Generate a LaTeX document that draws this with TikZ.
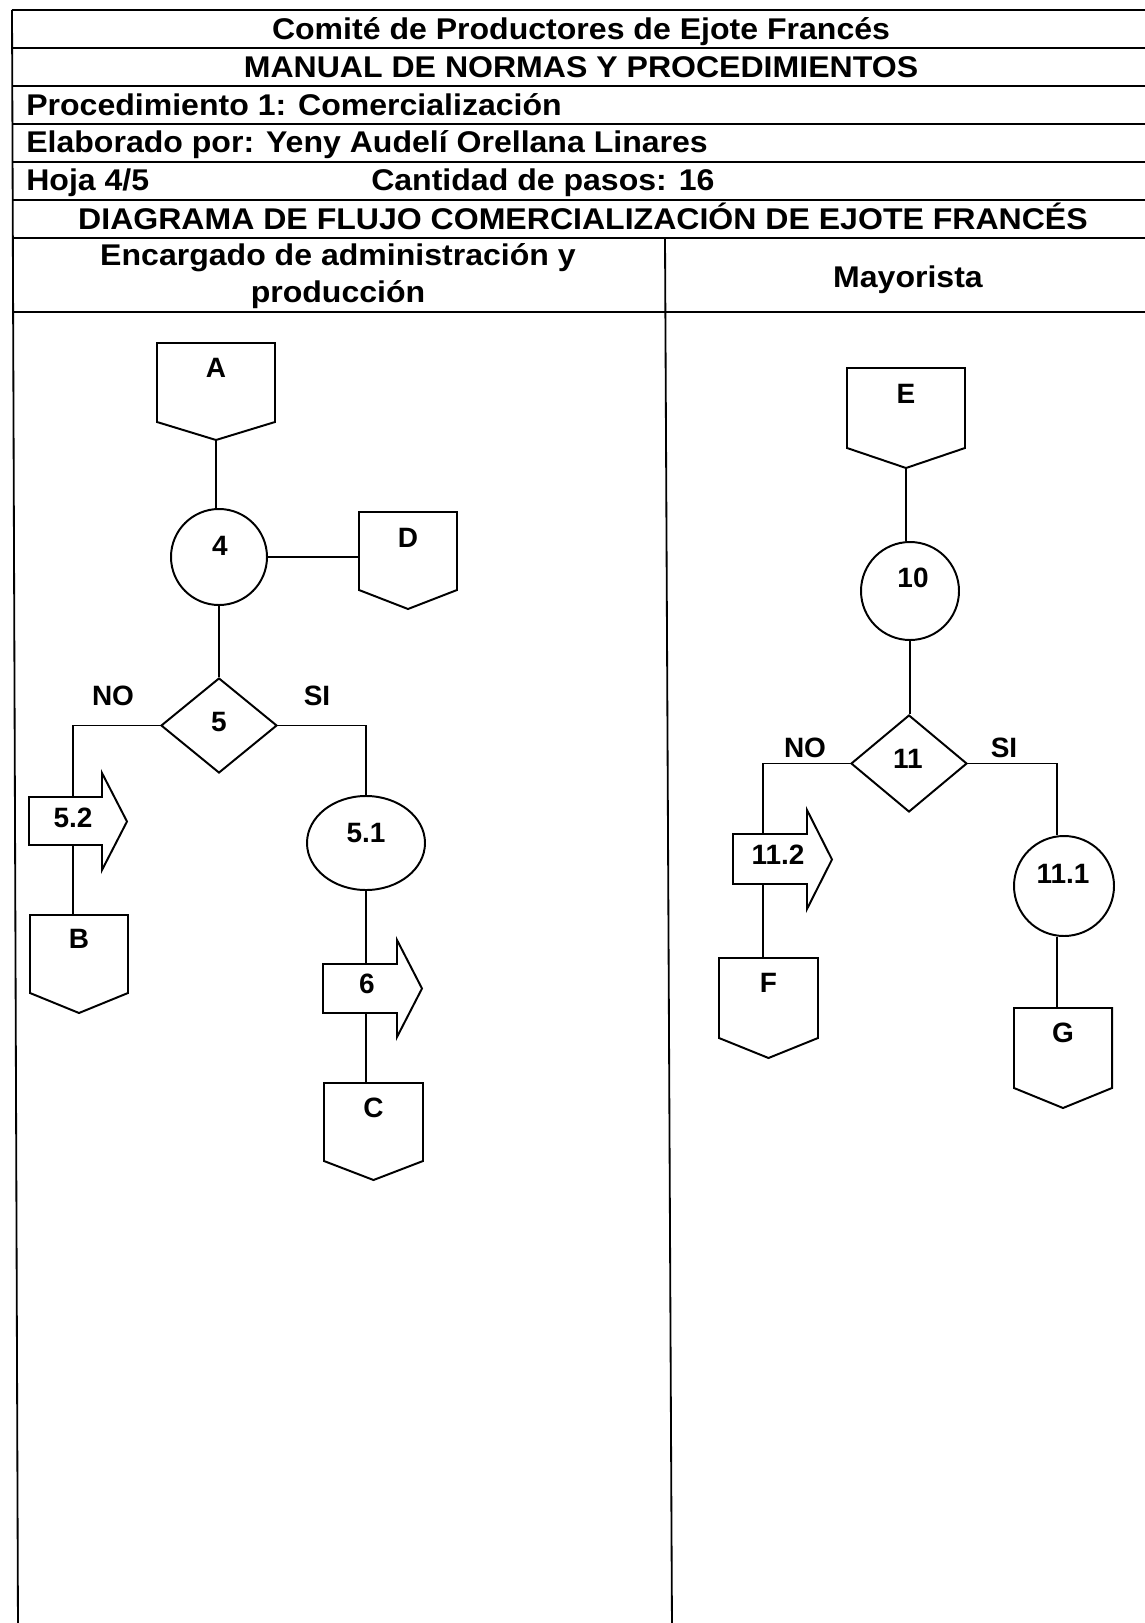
\documentclass[tikz,border=0pt]{standalone}
\usepackage{fontspec}
\newfontfamily\hfont{Liberation Sans}[FakeStretch=1.07]
\newfontfamily\lfont{Liberation Sans}
\usetikzlibrary{shapes.geometric,fit,calc}
\def\u{0.025cm}
\newcommand\offpg[8]{%
  \draw[shp, fill=white] (#2,#4) -- (#3,#4) -- (#3,#5) -- ({(#2+#3)/2},#6) -- (#2,#5) -- cycle;
  \node[fit={(#2,#4) (#3,#6)}, inner sep=0] (#1) {};
  \node[lbl] (#1t) at ({(#2+#3)/2},#8) {#7};
}
\newcommand\blkarr[8]{%
  \draw[shp, fill=white] (#2,#5) -- (#3,#5) -- (#3,#7) -- (#4,{(#7+#8)/2}) -- (#3,#8) -- (#3,#6) -- (#2,#6) -- cycle;
  \node[fit={(#2,#7) (#4,#8)}, inner sep=0] (#1) {};
}
\tikzset{
  tbl/.style={line width=1.3pt},
  shp/.style={line width=1.4pt, line join=miter},
  conn/.style={line width=1.4pt},
  hdr/.style={font=\hfont\bfseries\fontsize{21.3}{24}\selectfont, inner sep=0, anchor=base},
  hdrl/.style={hdr, anchor=base west},
  lbl/.style={font=\lfont\bfseries\fontsize{19.9}{22}\selectfont, inner sep=0, anchor=base},
  circ/.style={shp, circle, draw, fill=white, inner sep=0},
  diam/.style={shp, diamond, draw, fill=white, inner sep=0, minimum width={116*\u}, minimum height={95*\u}},
}
\begin{document}
\begin{tikzpicture}[x=0.025cm, y=-0.025cm]
\useasboundingbox (0,0) rectangle (1144,1623);
\fill[white] (0,0) rectangle (1144,1623);
% table
\foreach \yy in {10,48,86,124,162,200,238,312}
  \draw[tbl] (12,\yy) -- (1150,\yy);
\draw[tbl] (12,10) -- (18,1630);
\draw[tbl] (665,238) -- (672,1630);
% header texts
\node[hdr] (h1) at (581,40) {Comité de Productores de Ejote Francés};
\node[hdr] (h2) at (581,78) {MANUAL DE NORMAS Y PROCEDIMIENTOS};
\node[hdrl] (h3) at (26,116) {Procedimiento 1: Comercialización};
\node[hdrl] (h4) at (26,153) {Elaborado por: Yeny Audelí Orellana Linares};
\node[hdrl] (h5) at (26,191) {Hoja 4/5};
\node[hdrl] (h5b) at (371,191) {Cantidad de pasos: 16};
\node[hdr] (h6) at (583,229) {DIAGRAMA DE FLUJO COMERCIALIZACIÓN DE EJOTE FRANCÉS};
\node[hdr] (h7a) at (338,265) {Encargado de administración y};
\node[hdr] (h7b) at (338,302) {producción};
\node[hdr] (h8) at (908,287) {Mayorista};
% left lane shapes
\offpg{A}{157}{275}{343}{422}{440}{A}{377}
\node[circ, minimum size={96*\u}] (n4) at (219,557) {};
\offpg{D}{359}{457}{512}{590}{609}{D}{547}
\node[diam] (d5) at (219,725.5) {};
\offpg{B}{30}{128}{915}{993}{1013}{B}{948}
\node[shp, ellipse, draw, fill=white, inner sep=0, minimum width={118*\u}, minimum height={94*\u}] (n51) at (366,843) {};
\offpg{C}{324}{423}{1083}{1161}{1180}{C}{1117}
% right lane shapes
\offpg{E}{847}{965}{368}{448}{468}{E}{403}
\node[circ, minimum size={98*\u}] (n10) at (910,591) {};
\node[diam, minimum height={97*\u}] (d11) at (909,763.5) {};
\offpg{F}{719}{818}{958}{1038}{1058}{F}{992}
\node[circ, minimum size={100*\u}] (n111) at (1064,886) {};
\offpg{G}{1014}{1112}{1008}{1088}{1108}{G}{1042}
% junction coordinates
\coordinate (jB) at (73,915);
\coordinate (jF) at (763,958);
\coordinate (j111a) at ($(n111.north)+(-7,0)$);
\coordinate (j111b) at ($(n111.south)+(-7,0)$);
% connectors
\draw[conn] (A.south) -- (A.south |- n4.north);
\draw[conn] (n4.east) -- (n4.east -| D.west);
\draw[conn] (n4.south) -- (n4.south |- d5.north);
\draw[conn] (d5.west) -| (jB);
\draw[conn] (d5.east) -| (n51.north);
\draw[conn] (n51.south) -- (n51.south |- C.north);
\draw[conn] (E.south) -- (E.south |- n10.north);
\draw[conn] (n10.south) -- (n10.south |- d11.north);
\draw[conn] (d11.west) -| (jF);
\draw[conn] (d11.east) -| (j111a);
\draw[conn] (j111b) -- (j111b |- G.north);
% block arrows
\blkarr{a52}{29}{102}{127}{797}{845}{773}{870}
\blkarr{a6}{323}{397}{422}{964}{1013}{940}{1037}
\blkarr{a112}{733}{807}{832}{834}{884}{810}{909}
% labels
\node[lbl] (t4) at (220,555) {4};
\node[lbl] (t5) at (219,731) {5};
\node[lbl] (t51) at (366,842) {5.1};
\node[lbl] (t52) at (73,827) {5.2};
\node[lbl] (t6) at (367,993) {6};
\node[lbl] (t10) at (913,587) {10};
\node[lbl] (t11) at (908,768) {11};
\node[lbl] (t112) at (778,864) {11.2};
\node[lbl] (t111) at (1063,883) {11.1};
\node[lbl] (no1) at (113,705) {NO};
\node[lbl] (si1) at (317,705) {SI};
\node[lbl] (no2) at (805,757) {NO};
\node[lbl] (si2) at (1004,757) {SI};
\end{tikzpicture}
\end{document}
